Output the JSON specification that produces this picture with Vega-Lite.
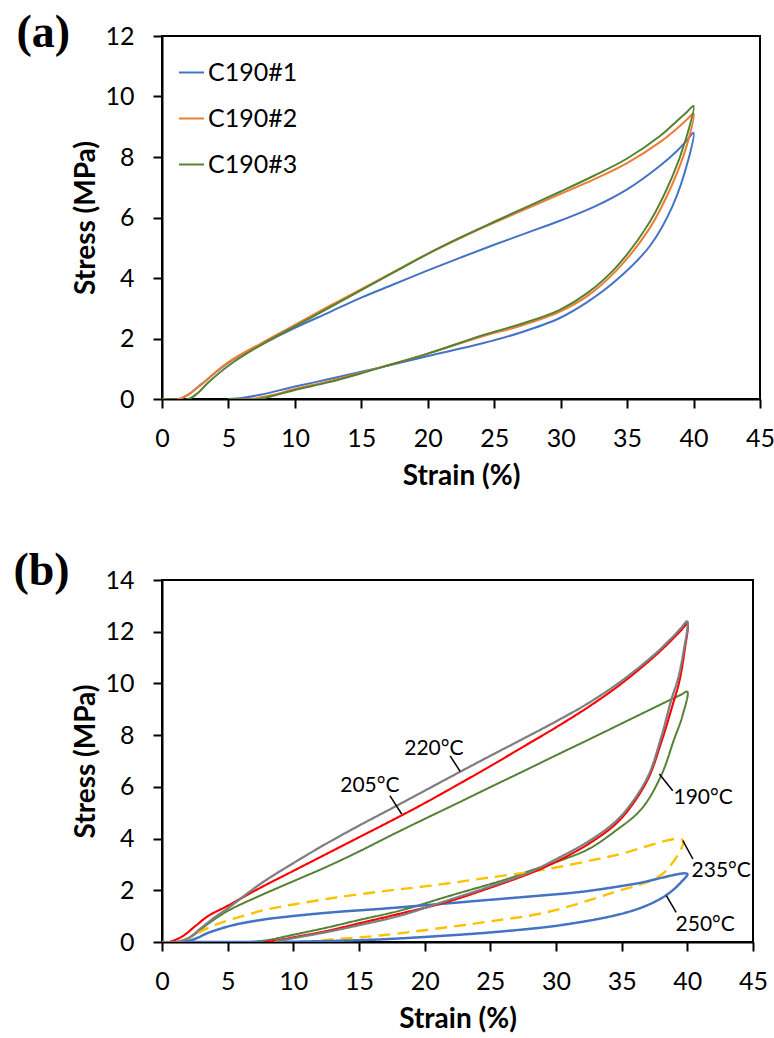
{
  "$schema": "https://vega.github.io/schema/vega-lite/v6.json",
  "padding": {"left": 12, "top": 8, "right": 5, "bottom": 5},
  "spacing": 55,
  "resolve": {"scale": {"color": "independent", "strokeWidth": "independent", "strokeDash": "independent"}, "legend": {"color": "independent"}},
  "config": {
    "font": "Lato",
    "view": {"stroke": "black", "strokeWidth": 2},
    "axis": {"grid": false, "domainColor": "black", "domainWidth": 2, "tickColor": "black", "tickWidth": 2, "tickSize": 9,
      "labelFont": "Lato", "labelFontSize": 25, "labelColor": "black", "labelPadding": 19, "labelFlush": false, "labelOverlap": false,
      "titleFont": "Lato", "titleFontSize": 28, "titleFontWeight": "bold", "titleColor": "black"},
    "axisX": {"titlePadding": 11, "labelPadding": 18},
    "axisY": {"titlePadding": 4}
  },
  "datasets": {
    "a": [
      {"s":"C190#1","i":0,"x":0,"y":0},{"s":"C190#1","i":1,"x":1.3,"y":0},{"s":"C190#1","i":2,"x":2,"y":0.15},{"s":"C190#1","i":3,"x":3,"y":0.5},{"s":"C190#1","i":4,"x":5,"y":1.2},{"s":"C190#1","i":5,"x":7.5,"y":1.8},{"s":"C190#1","i":6,"x":10,"y":2.35},{"s":"C190#1","i":7,"x":12.5,"y":2.85},{"s":"C190#1","i":8,"x":15,"y":3.35},{"s":"C190#1","i":9,"x":17.5,"y":3.8},{"s":"C190#1","i":10,"x":20,"y":4.25},{"s":"C190#1","i":11,"x":22.5,"y":4.68},{"s":"C190#1","i":12,"x":25,"y":5.1},{"s":"C190#1","i":13,"x":27.5,"y":5.5},{"s":"C190#1","i":14,"x":30,"y":5.9},{"s":"C190#1","i":15,"x":32.5,"y":6.35},{"s":"C190#1","i":16,"x":35,"y":6.93},{"s":"C190#1","i":17,"x":37.5,"y":7.72},{"s":"C190#1","i":17.3,"x":38.75,"y":8.2},{"s":"C190#1","i":17.6,"x":39.5,"y":8.55},{"s":"C190#1","i":18,"x":40,"y":8.8},
      {"s":"C190#1","i":19,"x":39.6,"y":7.9},{"s":"C190#1","i":20,"x":38.4,"y":6.36},{"s":"C190#1","i":21,"x":36.7,"y":5.05},{"s":"C190#1","i":22,"x":34.2,"y":3.93},{"s":"C190#1","i":23,"x":32,"y":3.2},{"s":"C190#1","i":24,"x":29.9,"y":2.67},{"s":"C190#1","i":25,"x":27,"y":2.2},{"s":"C190#1","i":26,"x":24.2,"y":1.85},{"s":"C190#1","i":27,"x":20,"y":1.42},{"s":"C190#1","i":28,"x":16.7,"y":1.07},{"s":"C190#1","i":29,"x":15,"y":0.9},{"s":"C190#1","i":30,"x":12.5,"y":0.65},{"s":"C190#1","i":31,"x":10,"y":0.41},{"s":"C190#1","i":32,"x":7.5,"y":0.15},{"s":"C190#1","i":33,"x":6,"y":0.03},{"s":"C190#1","i":34,"x":5,"y":0},

      {"s":"C190#2","i":0,"x":0,"y":0},{"s":"C190#2","i":1,"x":1.3,"y":0},{"s":"C190#2","i":2,"x":2,"y":0.15},{"s":"C190#2","i":3,"x":3,"y":0.5},{"s":"C190#2","i":4,"x":5,"y":1.22},{"s":"C190#2","i":5,"x":7.5,"y":1.85},{"s":"C190#2","i":6,"x":10,"y":2.45},{"s":"C190#2","i":7,"x":12.5,"y":3.05},{"s":"C190#2","i":8,"x":15,"y":3.63},{"s":"C190#2","i":9,"x":17.5,"y":4.22},{"s":"C190#2","i":10,"x":20,"y":4.8},{"s":"C190#2","i":11,"x":22.5,"y":5.33},{"s":"C190#2","i":12,"x":25,"y":5.83},{"s":"C190#2","i":13,"x":27.5,"y":6.3},{"s":"C190#2","i":14,"x":30,"y":6.78},{"s":"C190#2","i":15,"x":32.5,"y":7.26},{"s":"C190#2","i":16,"x":35,"y":7.8},{"s":"C190#2","i":17,"x":37.5,"y":8.5},{"s":"C190#2","i":17.3,"x":38.75,"y":8.94},{"s":"C190#2","i":17.6,"x":39.5,"y":9.24},{"s":"C190#2","i":18,"x":40,"y":9.44},
      {"s":"C190#2","i":19,"x":39.5,"y":8.4},{"s":"C190#2","i":20,"x":38.4,"y":7.1},{"s":"C190#2","i":21,"x":36.7,"y":5.65},{"s":"C190#2","i":22,"x":34.2,"y":4.25},{"s":"C190#2","i":23,"x":32,"y":3.4},{"s":"C190#2","i":24,"x":29.9,"y":2.88},{"s":"C190#2","i":25,"x":27,"y":2.42},{"s":"C190#2","i":26,"x":24.2,"y":2.08},{"s":"C190#2","i":27,"x":20,"y":1.5},{"s":"C190#2","i":28,"x":16.7,"y":1.08},{"s":"C190#2","i":29,"x":15,"y":0.87},{"s":"C190#2","i":30,"x":12.5,"y":0.58},{"s":"C190#2","i":31,"x":10,"y":0.33},{"s":"C190#2","i":32,"x":8.5,"y":0.15},{"s":"C190#2","i":33,"x":7,"y":0.02},{"s":"C190#2","i":34,"x":5.5,"y":0},

      {"s":"C190#3","i":0,"x":0,"y":0},{"s":"C190#3","i":1,"x":2,"y":0},{"s":"C190#3","i":2,"x":2.7,"y":0.2},{"s":"C190#3","i":3,"x":3.5,"y":0.55},{"s":"C190#3","i":4,"x":5,"y":1.1},{"s":"C190#3","i":5,"x":7.5,"y":1.8},{"s":"C190#3","i":6,"x":10,"y":2.4},{"s":"C190#3","i":7,"x":12.5,"y":3.0},{"s":"C190#3","i":8,"x":15,"y":3.6},{"s":"C190#3","i":9,"x":17.5,"y":4.2},{"s":"C190#3","i":10,"x":20,"y":4.8},{"s":"C190#3","i":11,"x":22.5,"y":5.35},{"s":"C190#3","i":12,"x":25,"y":5.86},{"s":"C190#3","i":13,"x":27.5,"y":6.36},{"s":"C190#3","i":14,"x":30,"y":6.86},{"s":"C190#3","i":15,"x":32.5,"y":7.38},{"s":"C190#3","i":16,"x":35,"y":7.95},{"s":"C190#3","i":17,"x":37.5,"y":8.7},{"s":"C190#3","i":17.3,"x":38.75,"y":9.19},{"s":"C190#3","i":17.6,"x":39.5,"y":9.49},{"s":"C190#3","i":18,"x":40,"y":9.69},
      {"s":"C190#3","i":19,"x":39.4,"y":8.56},{"s":"C190#3","i":20,"x":38.4,"y":7.35},{"s":"C190#3","i":21,"x":36.7,"y":5.85},{"s":"C190#3","i":22,"x":34.2,"y":4.37},{"s":"C190#3","i":23,"x":32,"y":3.5},{"s":"C190#3","i":24,"x":29.9,"y":2.94},{"s":"C190#3","i":25,"x":27,"y":2.48},{"s":"C190#3","i":26,"x":24.2,"y":2.12},{"s":"C190#3","i":27,"x":20,"y":1.5},{"s":"C190#3","i":28,"x":16.7,"y":1.07},{"s":"C190#3","i":29,"x":15,"y":0.85},{"s":"C190#3","i":30,"x":12.5,"y":0.55},{"s":"C190#3","i":31,"x":10,"y":0.3},{"s":"C190#3","i":32,"x":8.5,"y":0.12},{"s":"C190#3","i":33,"x":7.3,"y":0},{"s":"C190#3","i":34,"x":5,"y":0}
    ],
    "b": [
      {"s":"190","i":0,"x":0,"y":0},{"s":"190","i":1,"x":1.5,"y":0},{"s":"190","i":2,"x":2.5,"y":0.3},{"s":"190","i":3,"x":3.5,"y":0.7},{"s":"190","i":4,"x":5,"y":1.2},{"s":"190","i":5,"x":7.5,"y":1.8},{"s":"190","i":6,"x":10,"y":2.35},{"s":"190","i":7,"x":12.5,"y":2.9},{"s":"190","i":8,"x":15,"y":3.5},{"s":"190","i":9,"x":17.5,"y":4.14},{"s":"190","i":10,"x":20,"y":4.76},{"s":"190","i":11,"x":22.5,"y":5.37},{"s":"190","i":12,"x":25,"y":5.99},{"s":"190","i":13,"x":27.5,"y":6.6},{"s":"190","i":14,"x":30,"y":7.22},{"s":"190","i":15,"x":32.5,"y":7.83},{"s":"190","i":16,"x":35,"y":8.45},{"s":"190","i":17,"x":37.5,"y":9.07},{"s":"190","i":17.3,"x":38.75,"y":9.38},{"s":"190","i":17.6,"x":39.5,"y":9.56},{"s":"190","i":18,"x":40,"y":9.68},
      {"s":"190","i":19,"x":39.6,"y":8.7},{"s":"190","i":20,"x":39,"y":7.85},{"s":"190","i":21,"x":38,"y":6.43},{"s":"190","i":22,"x":36.5,"y":5.14},{"s":"190","i":23,"x":34.4,"y":4.25},{"s":"190","i":24,"x":32.5,"y":3.6},{"s":"190","i":25,"x":30.6,"y":3.2},{"s":"190","i":26,"x":28,"y":2.75},{"s":"190","i":27,"x":26.3,"y":2.44},{"s":"190","i":28,"x":22,"y":1.8},{"s":"190","i":29,"x":18.1,"y":1.21},{"s":"190","i":30,"x":15,"y":0.85},{"s":"190","i":31,"x":12.5,"y":0.55},{"s":"190","i":32,"x":10,"y":0.28},{"s":"190","i":33,"x":8,"y":0.07},{"s":"190","i":34,"x":6.6,"y":0},

      {"s":"235","i":0,"x":0,"y":0},{"s":"235","i":1,"x":1.5,"y":0},{"s":"235","i":2,"x":2.8,"y":0.37},{"s":"235","i":3,"x":4,"y":0.65},{"s":"235","i":4,"x":5.4,"y":0.89},{"s":"235","i":5,"x":7.9,"y":1.25},{"s":"235","i":6,"x":10,"y":1.45},{"s":"235","i":7,"x":13,"y":1.7},{"s":"235","i":8,"x":16.6,"y":1.95},{"s":"235","i":9,"x":20,"y":2.15},{"s":"235","i":10,"x":24.2,"y":2.44},{"s":"235","i":11,"x":29.3,"y":2.82},{"s":"235","i":12,"x":34.4,"y":3.34},{"s":"235","i":13,"x":39.65,"y":3.94},
      {"s":"235","i":14,"x":38.5,"y":2.82},{"s":"235","i":15,"x":37.5,"y":2.44},{"s":"235","i":16,"x":34.4,"y":1.92},{"s":"235","i":17,"x":29.3,"y":1.15},{"s":"235","i":18,"x":25,"y":0.8},{"s":"235","i":19,"x":21.7,"y":0.57},{"s":"235","i":20,"x":16.6,"y":0.25},{"s":"235","i":21,"x":13,"y":0.1},{"s":"235","i":22,"x":11,"y":0},

      {"s":"250","i":0,"x":0,"y":0},{"s":"250","i":1,"x":1.5,"y":0},{"s":"250","i":2,"x":2.5,"y":0.12},{"s":"250","i":3,"x":3.5,"y":0.35},{"s":"250","i":4,"x":5.4,"y":0.65},{"s":"250","i":5,"x":7.5,"y":0.85},{"s":"250","i":6,"x":9,"y":0.95},{"s":"250","i":7,"x":13,"y":1.15},{"s":"250","i":8,"x":16.6,"y":1.28},{"s":"250","i":9,"x":20,"y":1.42},{"s":"250","i":10,"x":24.2,"y":1.6},{"s":"250","i":11,"x":28,"y":1.76},{"s":"250","i":12,"x":31.9,"y":1.94},{"s":"250","i":13,"x":36,"y":2.25},{"s":"250","i":14,"x":40,"y":2.63},
      {"s":"250","i":15,"x":39.5,"y":2.3},{"s":"250","i":16,"x":39,"y":2.05},{"s":"250","i":17,"x":38.3,"y":1.78},{"s":"250","i":18,"x":37.5,"y":1.55},{"s":"250","i":19,"x":36.5,"y":1.33},{"s":"250","i":20,"x":35.2,"y":1.12},{"s":"250","i":21,"x":33.5,"y":0.92},{"s":"250","i":22,"x":31.5,"y":0.74},{"s":"250","i":23,"x":29.3,"y":0.58},{"s":"250","i":24,"x":25,"y":0.37},{"s":"250","i":25,"x":21.7,"y":0.25},{"s":"250","i":26,"x":16.6,"y":0.1},{"s":"250","i":27,"x":12,"y":0.03},{"s":"250","i":28,"x":8,"y":0},{"s":"250","i":29,"x":1.5,"y":0},

      {"s":"205","i":0,"x":0,"y":0},{"s":"205","i":1,"x":0.5,"y":0},{"s":"205","i":2,"x":1.5,"y":0.2},{"s":"205","i":3,"x":2.5,"y":0.6},{"s":"205","i":4,"x":3.5,"y":1.0},{"s":"205","i":5,"x":5,"y":1.4},{"s":"205","i":6,"x":7.5,"y":2.1},{"s":"205","i":7,"x":10,"y":2.75},{"s":"205","i":8,"x":12.5,"y":3.4},{"s":"205","i":9,"x":15,"y":4.05},{"s":"205","i":10,"x":17.5,"y":4.7},{"s":"205","i":11,"x":20,"y":5.37},{"s":"205","i":12,"x":22.5,"y":6.08},{"s":"205","i":13,"x":25,"y":6.8},{"s":"205","i":14,"x":27.5,"y":7.55},{"s":"205","i":15,"x":30,"y":8.3},{"s":"205","i":16,"x":32.5,"y":9.1},{"s":"205","i":17,"x":35,"y":10.0},{"s":"205","i":18,"x":37.5,"y":11.05},{"s":"205","i":18.3,"x":38.75,"y":11.65},{"s":"205","i":18.6,"x":39.5,"y":12.04},{"s":"205","i":19,"x":40,"y":12.3},
      {"s":"205","i":20,"x":39.8,"y":11.3},{"s":"205","i":21,"x":39.4,"y":10.1},{"s":"205","i":22,"x":38.9,"y":9.2},{"s":"205","i":23,"x":38,"y":7.7},{"s":"205","i":24,"x":37,"y":6.3},{"s":"205","i":25,"x":35.5,"y":5.1},{"s":"205","i":26,"x":34.4,"y":4.5},{"s":"205","i":27,"x":32.5,"y":3.8},{"s":"205","i":28,"x":30,"y":3.1},{"s":"205","i":29,"x":28,"y":2.65},{"s":"205","i":30,"x":25,"y":2.1},{"s":"205","i":31,"x":21.7,"y":1.55},{"s":"205","i":32,"x":18,"y":1.08},{"s":"205","i":33,"x":15,"y":0.72},{"s":"205","i":34,"x":12.5,"y":0.42},{"s":"205","i":35,"x":10,"y":0.18},{"s":"205","i":36,"x":8.5,"y":0.04},{"s":"205","i":37,"x":7.8,"y":0},

      {"s":"220","i":0,"x":0,"y":0},{"s":"220","i":1,"x":1,"y":0},{"s":"220","i":2,"x":2,"y":0.15},{"s":"220","i":3,"x":3,"y":0.55},{"s":"220","i":4,"x":4,"y":0.95},{"s":"220","i":5,"x":5,"y":1.3},{"s":"220","i":6,"x":7.5,"y":2.25},{"s":"220","i":7,"x":10,"y":3.05},{"s":"220","i":8,"x":12.5,"y":3.8},{"s":"220","i":9,"x":15,"y":4.5},{"s":"220","i":10,"x":17.5,"y":5.17},{"s":"220","i":11,"x":20,"y":5.85},{"s":"220","i":12,"x":22.5,"y":6.53},{"s":"220","i":13,"x":25,"y":7.2},{"s":"220","i":14,"x":27.5,"y":7.86},{"s":"220","i":15,"x":30,"y":8.53},{"s":"220","i":16,"x":32.5,"y":9.25},{"s":"220","i":17,"x":35,"y":10.1},{"s":"220","i":18,"x":37.5,"y":11.12},{"s":"220","i":18.3,"x":38.75,"y":11.73},{"s":"220","i":18.6,"x":39.5,"y":12.13},{"s":"220","i":19,"x":40,"y":12.4},
      {"s":"220","i":20,"x":39.7,"y":11.2},{"s":"220","i":21,"x":39.3,"y":10.2},{"s":"220","i":22,"x":38.8,"y":9.4},{"s":"220","i":23,"x":38,"y":7.9},{"s":"220","i":24,"x":37,"y":6.4},{"s":"220","i":25,"x":35.5,"y":5.2},{"s":"220","i":26,"x":34.4,"y":4.6},{"s":"220","i":27,"x":32.5,"y":3.9},{"s":"220","i":28,"x":30,"y":3.2},{"s":"220","i":29,"x":28,"y":2.7},{"s":"220","i":30,"x":25,"y":2.15},{"s":"220","i":31,"x":21.7,"y":1.6},{"s":"220","i":32,"x":18,"y":1.0},{"s":"220","i":33,"x":15,"y":0.65},{"s":"220","i":34,"x":12.5,"y":0.38},{"s":"220","i":35,"x":10,"y":0.15},{"s":"220","i":36,"x":9,"y":0.05},{"s":"220","i":37,"x":8.5,"y":0}
    ],
    "notes": [
      {"t":"220°C","x":20.7,"y":7.46,"x1":21.94,"y1":7.2,"x2":22.7,"y2":6.6},
      {"t":"205°C","x":15.83,"y":6.03,"x1":17.35,"y1":5.66,"x2":18.25,"y2":4.95},
      {"t":"190°C","x":41.2,"y":5.57,"x1":37.87,"y1":6.5,"x2":38.89,"y2":5.85},
      {"t":"235°C","x":42.58,"y":2.75,"x1":39.66,"y1":3.92,"x2":40.42,"y2":3.21},
      {"t":"250°C","x":41.36,"y":0.66,"x1":38.4,"y1":1.79,"x2":39.15,"y2":1.15}
    ]
  },
  "vconcat": [
    {
      "width": 598, "height": 363,
      "layer": [
        {
          "data": {"name": "a"},
          "mark": {"type": "line", "strokeWidth": 2, "interpolate": "catmull-rom", "clip": true},
          "encoding": {
            "x": {"field": "x", "type": "quantitative", "scale": {"domain": [0, 45], "nice": false}, "axis": {"title": "Strain (%)", "values": [0,5,10,15,20,25,30,35,40,45]}},
            "y": {"field": "y", "type": "quantitative", "scale": {"domain": [0, 12], "nice": false}, "axis": {"title": "Stress (MPa)", "values": [0,2,4,6,8,10,12]}},
            "color": {"field": "s", "type": "nominal", "scale": {"domain": ["C190#1","C190#2","C190#3"], "range": ["#4472C4","#ED7D31","#548235"]},
              "legend": {"title": null, "orient": "none", "legendX": 16, "legendY": 23, "symbolType": "stroke", "symbolSize": 625, "symbolStrokeWidth": 2, "labelFontSize": 25, "labelFont": "Lato", "labelColor": "black", "rowPadding": 19, "labelOffset": 3, "padding": 0}},
            "order": {"field": "i", "type": "quantitative"}
          }
        },
        {
          "data": {"values": [{"t": "(a)", "x": -8.93, "y": 12.1}]},
          "mark": {"type": "text", "font": "Liberation Serif", "fontSize": 46, "fontWeight": "bold", "baseline": "middle", "align": "center", "color": "black"},
          "encoding": {"x": {"field": "x", "type": "quantitative"}, "y": {"field": "y", "type": "quantitative"}, "text": {"field": "t"}}
        }
      ]
    },
    {
      "width": 591, "height": 362,
      "layer": [
        {
          "data": {"name": "b"},
          "mark": {"type": "line", "interpolate": "catmull-rom", "clip": true},
          "encoding": {
            "x": {"field": "x", "type": "quantitative", "scale": {"domain": [0, 45], "nice": false}, "axis": {"title": "Strain (%)", "values": [0,5,10,15,20,25,30,35,40,45]}},
            "y": {"field": "y", "type": "quantitative", "scale": {"domain": [0, 14], "nice": false}, "axis": {"title": "Stress (MPa)", "values": [0,2,4,6,8,10,12,14]}},
            "color": {"field": "s", "type": "nominal", "scale": {"domain": ["190","205","220","235","250"], "range": ["#548235","#FF0000","#7F7F7F","#FFC000","#4472C4"]}, "legend": null},
            "strokeWidth": {"field": "s", "type": "nominal", "scale": {"domain": ["190","205","220","235","250"], "range": [2, 2.5, 3, 2.5, 2]}, "legend": null},
            "strokeDash": {"field": "s", "type": "nominal", "scale": {"domain": ["190","205","220","235","250"], "range": [[1,0],[1,0],[1,0],[12,7],[1,0]]}, "legend": null},
            "order": {"field": "i", "type": "quantitative"}
          }
        },
        {
          "data": {"name": "notes"},
          "mark": {"type": "rule", "color": "black", "strokeWidth": 1.5},
          "encoding": {"x": {"field": "x1", "type": "quantitative"}, "y": {"field": "y1", "type": "quantitative"}, "x2": {"field": "x2"}, "y2": {"field": "y2"}}
        },
        {
          "data": {"name": "notes"},
          "mark": {"type": "text", "fontSize": 21, "font": "Lato", "baseline": "middle", "align": "center", "color": "black"},
          "encoding": {"x": {"field": "x", "type": "quantitative"}, "y": {"field": "y", "type": "quantitative"}, "text": {"field": "t"}}
        },
        {
          "data": {"values": [{"t": "(b)", "x": -9.17, "y": 14.35}]},
          "mark": {"type": "text", "font": "Liberation Serif", "fontSize": 46, "fontWeight": "bold", "baseline": "middle", "align": "center", "color": "black"},
          "encoding": {"x": {"field": "x", "type": "quantitative"}, "y": {"field": "y", "type": "quantitative"}, "text": {"field": "t"}}
        }
      ]
    }
  ]
}
